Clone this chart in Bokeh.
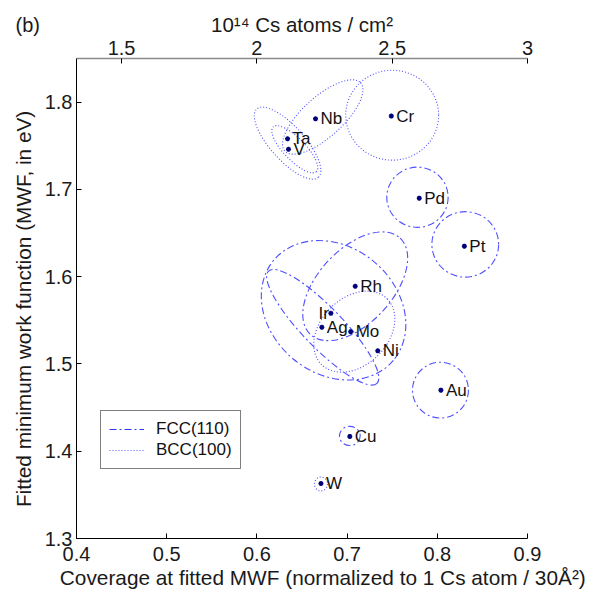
import numpy as np
from bokeh.plotting import figure
from bokeh.models import (Range1d, LinearAxis, FixedTicker, NumeralTickFormatter,
                          Label, Legend, LegendItem, ColumnDataSource)
from bokeh.core.properties import value
from bokeh.embed import file_html
from bokeh.resources import INLINE

# ---- data ----
names = ["Cr", "Nb", "Ta", "V", "Pd", "Pt", "Rh", "Ir", "Ag", "Mo", "Ni", "Au", "Cu", "W"]
coverage = [0.749, 0.665, 0.634, 0.635, 0.780, 0.830, 0.709, 0.682, 0.672, 0.704, 0.734, 0.804, 0.703, 0.671]
mwf = [1.784, 1.781, 1.758, 1.746, 1.690, 1.635, 1.589, 1.558, 1.542, 1.537, 1.515, 1.470, 1.417, 1.363]

# uncertainty ellipses: centre, full width / height (data units), tilt (deg)
ell_names = ["Cr", "Nb", "Ta", "V", "Mo", "W", "Pd", "Pt", "Au", "Cu", "Rh", "Ir", "Ag"]
ell_type = ["BCC", "BCC", "BCC", "BCC", "BCC", "BCC", "FCC", "FCC", "FCC", "FCC", "FCC", "FCC", "FCC"]
ell_cx = [0.750, 0.673, 0.634, 0.642, 0.708, 0.671, 0.778, 0.831, 0.8035, 0.703, 0.709, 0.685, 0.673]
ell_cy = [1.785, 1.783, 1.753, 1.746, 1.537, 1.3625, 1.691, 1.637, 1.470, 1.4175, 1.589, 1.5615, 1.542]
ell_w = [0.103, 0.113, 0.102, 0.069, 0.103, 0.0144, 0.068, 0.074, 0.062, 0.023, 0.146, 0.173, 0.173]
ell_h = [0.103, 0.046, 0.039, 0.025, 0.077, 0.016, 0.069, 0.075, 0.064, 0.022, 0.085, 0.145, 0.046]
ell_angle = [0, 42, -48, -46, 45, 0, 0, 0, 0, 0, 47, -40, -46]

x_ticks = [0.4, 0.5, 0.6, 0.7, 0.8, 0.9]
y_ticks = [1.3, 1.4, 1.5, 1.6, 1.7, 1.8]
top_ticks = [1.5, 2.0, 2.5, 3.0]
cs_per_unit = 10.0 / 3.0  # 1 Cs atom / 30 A^2 = 3.33e14 atoms/cm^2

FONT = "Liberation Sans"
LINE_COL = "#4f4fff"
DASH = {"FCC": "7 3 2 3", "BCC": "1 2"}
EM = "\u2003"  # em space, used to nudge centred axis titles as in the reference

p = figure(width=595, height=600, output_backend="svg", toolbar_location=None,
           x_range=Range1d(0.4, 0.9), y_range=Range1d(1.3, 1.85),
           min_border_left=76, min_border_right=68, min_border_top=58, min_border_bottom=62,
           title=None)
p.xgrid.visible = False
p.ygrid.visible = False
p.outline_line_color = None
p.background_fill_color = "white"

xa = p.below[0]
ya = p.left[0]
p.extra_x_ranges = {"top": Range1d(0.4 * cs_per_unit, 0.9 * cs_per_unit)}
top = LinearAxis(x_range_name="top")
p.add_layout(top, "above")

xa.ticker = FixedTicker(ticks=x_ticks)
ya.ticker = FixedTicker(ticks=y_ticks)
top.ticker = FixedTicker(ticks=top_ticks)
xa.formatter = NumeralTickFormatter(format="0.0")
ya.formatter = NumeralTickFormatter(format="0.0")
top.formatter = NumeralTickFormatter(format="0.[0]")

xa.axis_label = EM + EM + "Coverage at fitted MWF (normalized to 1 Cs atom / 30Å²)"
ya.axis_label = "Fitted minimum work function (MWF, in eV)" + EM
top.axis_label = "10¹⁴ Cs atoms / cm²"

for ax in (xa, ya, top):
    ax.major_tick_in = 5
    ax.major_tick_out = 0
    ax.minor_tick_line_color = None
    ax.major_label_text_font = FONT
    ax.major_label_text_font_size = "20px"
    ax.major_label_text_color = "#1a1a1a"
    ax.axis_label_text_font = FONT
    ax.axis_label_text_font_size = "20.8px"
    ax.axis_label_text_font_style = "normal"
    ax.axis_label_text_color = "#1a1a1a"
    ax.axis_line_color = "black"
    ax.major_tick_line_color = "black"
top.axis_label_text_font_size = "20.5px"
xa.major_label_standoff = 8
xa.axis_label_standoff = 2
ya.major_label_standoff = 4
ya.axis_label_standoff = 7
top.major_label_standoff = 4
top.axis_label_standoff = 2
top.axis_line_color = "#8a8a8a"
top.axis_line_width = 1.5

# ---- ellipses ----
for kind in ("FCC", "BCC"):
    idx = [i for i, t in enumerate(ell_type) if t == kind]
    src = ColumnDataSource(dict(
        x=[ell_cx[i] for i in idx], y=[ell_cy[i] for i in idx],
        w=[ell_w[i] for i in idx], h=[ell_h[i] for i in idx],
        a=[np.deg2rad(ell_angle[i]) for i in idx]))
    p.ellipse(x="x", y="y", width="w", height="h", angle="a", source=src,
              fill_color=None, line_color=LINE_COL, line_width=1.1, line_dash=DASH[kind])

# ---- points ----
p.scatter(coverage, mwf, marker="asterisk", size=5, line_color="#00007a", line_width=1.5)

left_idx = [i for i, n in enumerate(names) if n == "Ir"]
right_idx = [i for i, n in enumerate(names) if n != "Ir"]
src_r = ColumnDataSource(dict(x=[coverage[i] for i in right_idx], y=[mwf[i] for i in right_idx],
                              t=[names[i] for i in right_idx]))
src_l = ColumnDataSource(dict(x=[coverage[i] for i in left_idx], y=[mwf[i] for i in left_idx],
                              t=[names[i] for i in left_idx]))
p.text(x="x", y="y", text="t", source=src_r, x_offset=5, text_align="left", text_baseline="middle",
       text_font=value(FONT), text_font_size="17px", text_color="#111111")
p.text(x="x", y="y", text="t", source=src_l, x_offset=-2, text_align="right", text_baseline="middle",
       text_font=value(FONT), text_font_size="17px", text_color="#111111")

# ---- legend (proxy lines outside the visible range) ----
r_fcc = p.line(x=[np.nan, np.nan], y=[np.nan, np.nan], line_color="#3333ff", line_width=1, line_dash=DASH["FCC"])
r_bcc = p.line(x=[np.nan, np.nan], y=[np.nan, np.nan], line_color="#5c5cff", line_width=1, line_dash=DASH["BCC"])
legend = Legend(items=[LegendItem(label="FCC(110)", renderers=[r_fcc]),
                       LegendItem(label="BCC(100)", renderers=[r_bcc])],
                location=(24, 69), label_text_font=FONT, label_text_font_size="17px",
                label_text_color="#111111",
                glyph_width=35, glyph_height=20, label_height=20, label_standoff=12,
                padding=8, spacing=1, margin=0,
                border_line_color="black", border_line_width=1, background_fill_alpha=1)
p.add_layout(legend, "center")

# panel letter: hosted by the (empty) right side panel so it is not clipped
# and does not enlarge the left border; offsets are relative to that panel.
p.add_layout(Label(x=15 - 527, y=514, x_units="screen", y_units="screen", text="(b)",
                   text_font=FONT, text_font_size="20px", text_baseline="middle",
                   text_color="#1a1a1a"), "right")

open("out.html", "w", encoding="utf-8").write(file_html(p, INLINE))
